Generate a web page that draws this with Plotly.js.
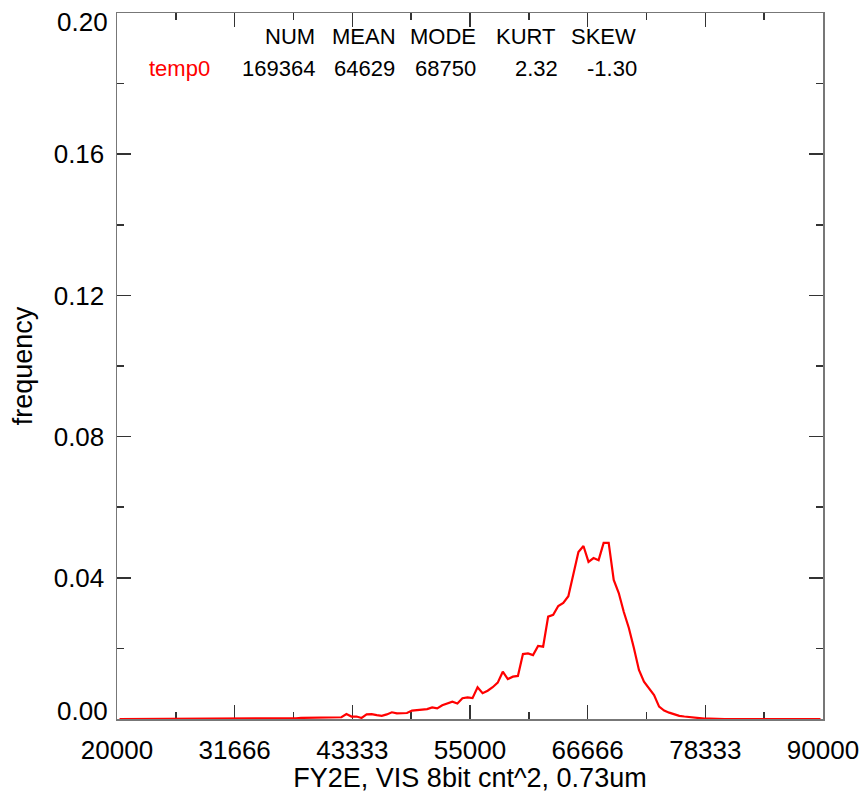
<!DOCTYPE html>
<html>
<head>
<meta charset="utf-8">
<script src="https://cdn.plot.ly/plotly-3.0.1.min.js"></script>
<style>html,body{margin:0;padding:0;background:#fff;}#chart{width:865px;height:793px;}</style>
</head>
<body>
<div id="chart"></div>
<script>
// Histogram bin centres (bin width 500, from 20000 to 90000)
const binCenters = [
 20250,20750,21250,21750,22250,22750,23250,23750,24250,24750,
 25250,25750,26250,26750,27250,27750,28250,28750,29250,29750,
 30250,30750,31250,31750,32250,32750,33250,33750,34250,34750,
 35250,35750,36250,36750,37250,37750,38250,38750,39250,39750,
 40250,40750,41250,41750,42250,42750,43250,43750,44250,44750,
 45250,45750,46250,46750,47250,47750,48250,48750,49250,49750,
 50250,50750,51250,51750,52250,52750,53250,53750,54250,54750,
 55250,55750,56250,56750,57250,57750,58250,58750,59250,59750,
 60250,60750,61250,61750,62250,62750,63250,63750,64250,64750,
 65250,65750,66250,66750,67250,67750,68250,68750,69250,69750,
 70250,70750,71250,71750,72250,72750,73250,73750,74250,74750,
 75250,75750,76250,76750,77250,77750,78250,78750,79250,79750,
 80250,80750,81250,81750,82250,82750,83250,83750,84250,84750,
 85250,85750,86250,86750,87250,87750,88250,88750,89250,89750
];
// frequency of series temp0
const temp0Freq = [
 0,0,0,0,0,0,0,0,0,0,
 0,0,0,0,0,0,0,0,0,0,
 0,0,0,0,0,0,0,0,0.0001,0.0001,
 0.0001,0.0001,0.0001,0.0001,0.0002,0.0002,0.0003,0.0003,0.0003,0.0004,
 0.0004,0.0005,0.0004,0.0005,0.0005,0.0014,0.0007,0.0007,0.0003,0.0013,
 0.0014,0.0011,0.0009,0.0013,0.0019,0.0016,0.0016,0.0017,0.0024,0.0025,
 0.0028,0.0028,0.0033,0.0030,0.0039,0.0045,0.0049,0.0044,0.0059,0.0061,
 0.0059,0.0090,0.0073,0.0080,0.0090,0.0103,0.0134,0.0113,0.0120,0.0122,
 0.0184,0.0186,0.0181,0.0207,0.0205,0.0290,0.0295,0.0320,0.0329,0.0348,
 0.0415,0.0473,0.0490,0.0445,0.0456,0.0450,0.0499,0.0499,0.0394,0.0357,
 0.0303,0.0258,0.0201,0.0139,0.0106,0.0087,0.0068,0.0035,0.0024,0.0018,
 0.0013,0.0009,0.0007,0.0005,0.0003,0.0002,0.0001,0.0001,0,0,
 0,0,0,0,0,0,0,0,0,0,
 0,0,0,0,0,0,0,0,0,0
];
const xTickVals = [20000, 31666.67, 43333.33, 55000, 66666.67, 78333.33, 90000];
const xTickText = ["20000","31666","43333","55000","66666","78333","90000"];
const xMinorVals = [25833.33, 37500, 49166.67, 60833.33, 72500, 84166.67];
const yTickVals = [0, 0.04, 0.08, 0.12, 0.16, 0.20];
const yTickText = ["0.00","0.04","0.08","0.12","0.16","0.20"];
const yMinorVals = [0.02, 0.06, 0.10, 0.14, 0.18];

const statHeaders = ["NUM","MEAN","MODE","KURT","SKEW"];
const seriesName = "temp0";
const statValues = ["169364","64629","68750","2.32","-1.30"];

// layout geometry (pixels)
const W = 865, H = 793, L = 117, R = 823, T = 13, B = 719;
const px2x = p => (p - L) / (R - L);
const py2y = p => (B - p) / (B - T);
const headerRight = [317.3, 398.3, 478.3, 558.3, 638.3];
const valueRight = [317.3, 396.7, 478.3, 560, 639.3];

const FONT = "Liberation Sans, Arial, Helvetica, sans-serif";
const annotations = [];
statHeaders.forEach((h, i) => annotations.push({
  xref:'paper', yref:'paper', x: px2x(headerRight[i]), y: py2y(36.5),
  xanchor:'right', yanchor:'middle', text:h, showarrow:false,
  font:{family:FONT, size:22, color:'#000'}
}));
statValues.forEach((v, i) => annotations.push({
  xref:'paper', yref:'paper', x: px2x(valueRight[i]), y: py2y(68),
  xanchor:'right', yanchor:'middle', text:v, showarrow:false,
  font:{family:FONT, size:22, color:'#000'}
}));
annotations.push({
  xref:'paper', yref:'paper', x: px2x(146.7), y: py2y(68),
  xanchor:'left', yanchor:'middle', text:seriesName, showarrow:false,
  font:{family:FONT, size:22, color:'#ff0000'}
});
// end labels of the y axis are nudged inside the frame, as in the original plot
const yEndLabelPos = [[0, 711], [5, 22]];
yEndLabelPos.forEach(([idx, py]) => annotations.push({
  xref:'paper', yref:'paper', x: px2x(L - 7), y: py2y(py),
  xanchor:'right', yanchor:'middle', text: yTickText[idx], showarrow:false,
  font:{family:FONT, size:26, color:'#000'}
}));
const yShownText = yTickText.map((t, i) => (i === 0 || i === yTickText.length - 1) ? '' : t);

const axisCommon = {
  showgrid:false, zeroline:false, showline:true, linecolor:'#777', linewidth:1.5,
  mirror:'ticks', ticks:'inside', ticklen:14, tickwidth:1.5, tickcolor:'#333',
  tickfont:{family:FONT, size:26, color:'#000'}, layer:'below traces'
};

const data = [{
  x: binCenters, y: temp0Freq, type:'scatter', mode:'lines', name: seriesName,
  line:{color:'#ff0000', width:2.2}, showlegend:false, hoverinfo:'x+y'
}];

const layout = {
  width: W, height: H,
  margin:{l:L, r:W-R, t:T, b:H-B, pad:0},
  paper_bgcolor:'#fff', plot_bgcolor:'#fff',
  showlegend:false,
  xaxis: Object.assign({}, axisCommon, {
    range:[20000, 90000], tickmode:'array', tickvals:xTickVals, ticktext:xTickText,
    ticklabelstandoff: 7,
    minor:{tickmode:'array', tickvals:xMinorVals, ticks:'inside', ticklen:7, tickwidth:1.5, tickcolor:'#333'},
    title:{text:'FY2E, VIS 8bit cnt^2, 0.73um', font:{family:FONT, size:27, color:'#000'}, standoff:6}
  }),
  yaxis: Object.assign({}, axisCommon, {
    range:[0, 0.2], tickmode:'array', tickvals:yTickVals, ticktext:yShownText,
    ticklabelstandoff: 6,
    minor:{tickmode:'array', tickvals:yMinorVals, ticks:'inside', ticklen:7, tickwidth:1.5, tickcolor:'#333'},
    title:{text:'frequency', font:{family:FONT, size:27, color:'#000'}, standoff:13}
  }),
  annotations: annotations
};

Plotly.newPlot('chart', data, layout, {displayModeBar:false, staticPlot:true});
</script>
</body>
</html>
